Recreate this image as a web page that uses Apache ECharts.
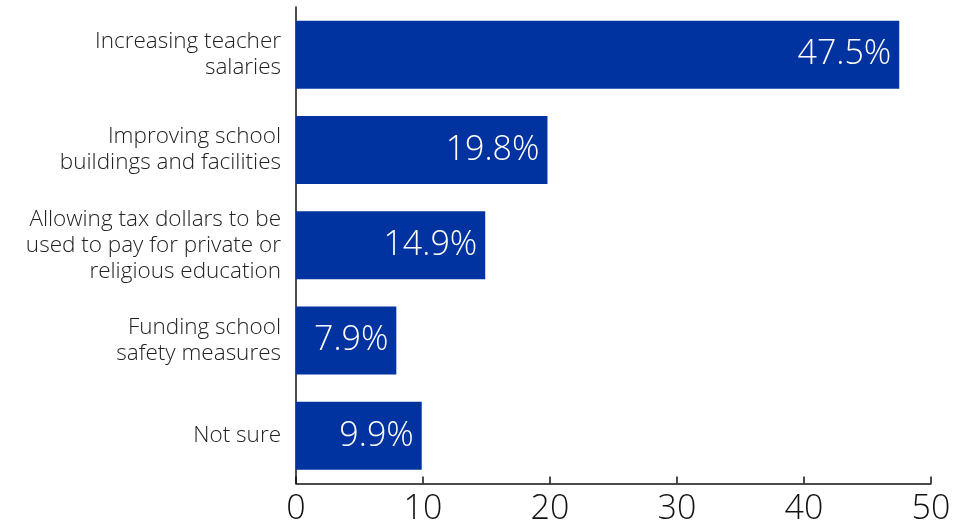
<!DOCTYPE html>
<html>
<head>
<meta charset="utf-8">
<style>
  html, body { margin: 0; padding: 0; background: #fff; }
  #chart { width: 957px; height: 531px; }
</style>
<script src="https://cdn.jsdelivr.net/npm/echarts@6/dist/echarts.min.js"></script>
</head>
<body>
<div id="chart"></div>
<script>
// Survey answers, top to bottom
const categories = [
  'Increasing teacher\nsalaries',
  'Improving school\nbuildings and facilities',
  'Allowing tax dollars to be\nused to pay for private or\nreligious education',
  'Funding school\nsafety measures',
  'Not sure'
];
const shares = [47.5, 19.8, 14.9, 7.9, 9.9];
const xTicks = [0, 10, 20, 30, 40, 50];

const fontFamily = '"Open Sans", Lato, sans-serif';
const chart = echarts.init(document.getElementById('chart'), null, { renderer: 'canvas' });

chart.setOption({
  animation: false,
  grid: { left: 296, right: 26, top: 7, bottom: 47.5, containLabel: false },
  xAxis: {
    type: 'value',
    min: xTicks[0],
    max: xTicks[xTicks.length - 1],
    interval: xTicks[1] - xTicks[0],
    axisLine: { show: true, lineStyle: { color: '#111', width: 1.5 } },
    axisTick: { show: true, inside: true, length: 7, lineStyle: { color: '#111', width: 1.5 } },
    splitLine: { show: false },
    axisLabel: { color: '#111', fontSize: 34, fontWeight: 350, fontFamily: fontFamily, margin: 9 }
  },
  yAxis: {
    type: 'category',
    inverse: true,
    data: categories,
    axisLine: { show: true, lineStyle: { color: '#111', width: 1.5 } },
    axisTick: { show: false },
    axisLabel: {
      color: '#222', fontSize: 22.5, fontWeight: 350, lineHeight: 26, fontFamily: fontFamily,
      margin: 15, align: 'right'
    }
  },
  series: [{
    type: 'bar',
    data: shares,
    barCategoryGap: '28.6%',
    itemStyle: { color: '#0033a0' },
    label: {
      show: true,
      position: 'insideRight',
      distance: 8,
      color: '#fff',
      fontSize: 34,
      fontWeight: 350,
      fontFamily: fontFamily,
      formatter: p => p.value.toFixed(1) + '%'
    }
  }]
});
</script>
</body>
</html>
